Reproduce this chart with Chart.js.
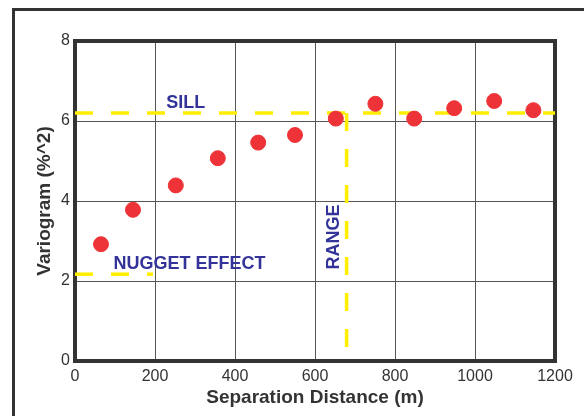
<!DOCTYPE html>
<html>
<head>
<meta charset="utf-8">
<script src="https://cdn.jsdelivr.net/npm/chart.js@4/dist/chart.umd.min.js"></script>
<style>
  html, body { margin: 0; padding: 0; background: #fff; }
  #wrap { position: relative; width: 584px; height: 416px; overflow: hidden; }
  #frame { position: absolute; left: 12px; top: 8px; width: 700px; height: 500px;
           border-left: 3px solid #333; border-top: 3px solid #333; }
  #c { position: absolute; left: 0; top: 0; }
</style>
</head>
<body>
<div id="wrap">
  <div id="frame"></div>
  <canvas id="c" width="584" height="416"></canvas>
</div>
<script>

// experimental variogram points
const lagDistance = [65, 145, 252, 357, 458, 550, 652, 751, 848, 948, 1048, 1146];
const variogram   = [2.92, 3.78, 4.39, 5.07, 5.46, 5.65, 6.06, 6.43, 6.06, 6.32, 6.50, 6.27];

// model parameters shown as dashed guides
const sillLevel = 6.2;
const nuggetLevel = 2.17;
const nuggetEnd = 195;
const rangeDist = 679;

const xTicks = [0, 200, 400, 600, 800, 1000, 1200];
const yTicks = [0, 2, 4, 6, 8];

// text labels: [text, x, y, rotated]
const guideLabels = [
    ['SILL', 277, 6.45, false],
    ['NUGGET EFFECT', 96, 2.43, false],
    ['RANGE', 647, 3.1, true]
];

const yellow = '#ffee00';
const dash = [18, 18];

// thick box round the plot area
const plotBox = {
    id: 'plotBox',
    beforeDatasetsDraw(chart) {
        const {ctx, chartArea: a} = chart;
        ctx.save();
        ctx.strokeStyle = '#333';
        ctx.lineWidth = 4;
        ctx.strokeRect(a.left, a.top, a.right - a.left, a.bottom - a.top);
        ctx.restore();
    }
};

// SILL / NUGGET EFFECT / RANGE captions
const guideText = {
    id: 'guideText',
    afterDatasetsDraw(chart) {
        const {ctx, scales} = chart;
        ctx.save();
        ctx.fillStyle = '#333399';
        ctx.font = 'bold 18px "Liberation Sans", Arial, sans-serif';
        ctx.textBaseline = 'middle';
        guideLabels.forEach(([text, x, y, rotated]) => {
            const px = scales.x.getPixelForValue(x);
            const py = scales.y.getPixelForValue(y);
            if (rotated) {
                ctx.save();
                ctx.translate(px, py);
                ctx.rotate(-Math.PI / 2);
                ctx.textAlign = 'center';
                ctx.fillText(text, 0, 0);
                ctx.restore();
            } else {
                ctx.textAlign = text === 'SILL' ? 'center' : 'left';
                ctx.fillText(text, px, py);
            }
        });
        ctx.restore();
    }
};

const ctx = document.getElementById('c').getContext('2d');
const myChart = new Chart(ctx, {
    type: 'scatter',
    data: {
        datasets: [
            {
                label: 'Variogram',
                data: lagDistance.map((d, i) => ({x: d, y: variogram[i]})),
                backgroundColor: '#ee3338',
                borderColor: '#ee3338',
                pointRadius: 7.5,
                order: 0
            },
            {
                type: 'line',
                label: 'Sill',
                data: [{x: 0, y: sillLevel}, {x: 1200, y: sillLevel}],
                borderColor: yellow,
                borderWidth: 3.5,
                borderDash: dash,
                pointRadius: 0,
                order: 1
            },
            {
                type: 'line',
                label: 'Nugget',
                data: [{x: 0, y: nuggetLevel}, {x: nuggetEnd, y: nuggetLevel}],
                borderColor: yellow,
                borderWidth: 3.5,
                borderDash: dash,
                pointRadius: 0,
                order: 1
            },
            {
                type: 'line',
                label: 'Range',
                data: [{x: rangeDist, y: sillLevel}, {x: rangeDist, y: 0}],
                borderColor: yellow,
                borderWidth: 3.5,
                borderDash: dash,
                pointRadius: 0,
                order: 1
            }
        ]
    },
    options: {
        responsive: false,
        animation: false,
        layout: {
            padding: {left: 33, top: 41, right: 29, bottom: 7}
        },
        scales: {
            x: {
                type: 'linear',
                min: 0,
                max: 1200,
                afterBuildTicks: (scale) => { scale.ticks = xTicks.map(v => ({value: v})); },
                afterFit: (scale) => { scale.height = 48; },
                grid: {color: '#555', lineWidth: 1, drawTicks: false},
                border: {display: false},
                ticks: {
                    color: '#333',
                    padding: 6,
                    callback: (v) => String(v),
                    font: {family: '"Liberation Sans", Arial, sans-serif', size: 16}
                },
                title: {
                    display: true,
                    text: 'Separation Distance (m)',
                    color: '#333',
                    padding: 0,
                    font: {family: '"Liberation Sans", Arial, sans-serif', size: 19, weight: 'bold'}
                }
            },
            y: {
                type: 'linear',
                min: 0,
                max: 8,
                afterBuildTicks: (scale) => { scale.ticks = yTicks.map(v => ({value: v})); },
                afterFit: (scale) => { scale.width = 42; },
                grid: {color: '#555', lineWidth: 1, drawTicks: false},
                border: {display: false},
                ticks: {
                    color: '#333',
                    padding: 5,
                    callback: (v) => String(v),
                    font: {family: '"Liberation Sans", Arial, sans-serif', size: 16}
                },
                title: {
                    display: true,
                    text: 'Variogram (%^2)',
                    color: '#333',
                    padding: 0,
                    font: {family: '"Liberation Sans", Arial, sans-serif', size: 19, weight: 'bold'}
                }
            }
        },
        plugins: {
            legend: {display: false},
            tooltip: {enabled: false}
        }
    },
    plugins: [plotBox, guideText]
});

</script>
</body>
</html>
